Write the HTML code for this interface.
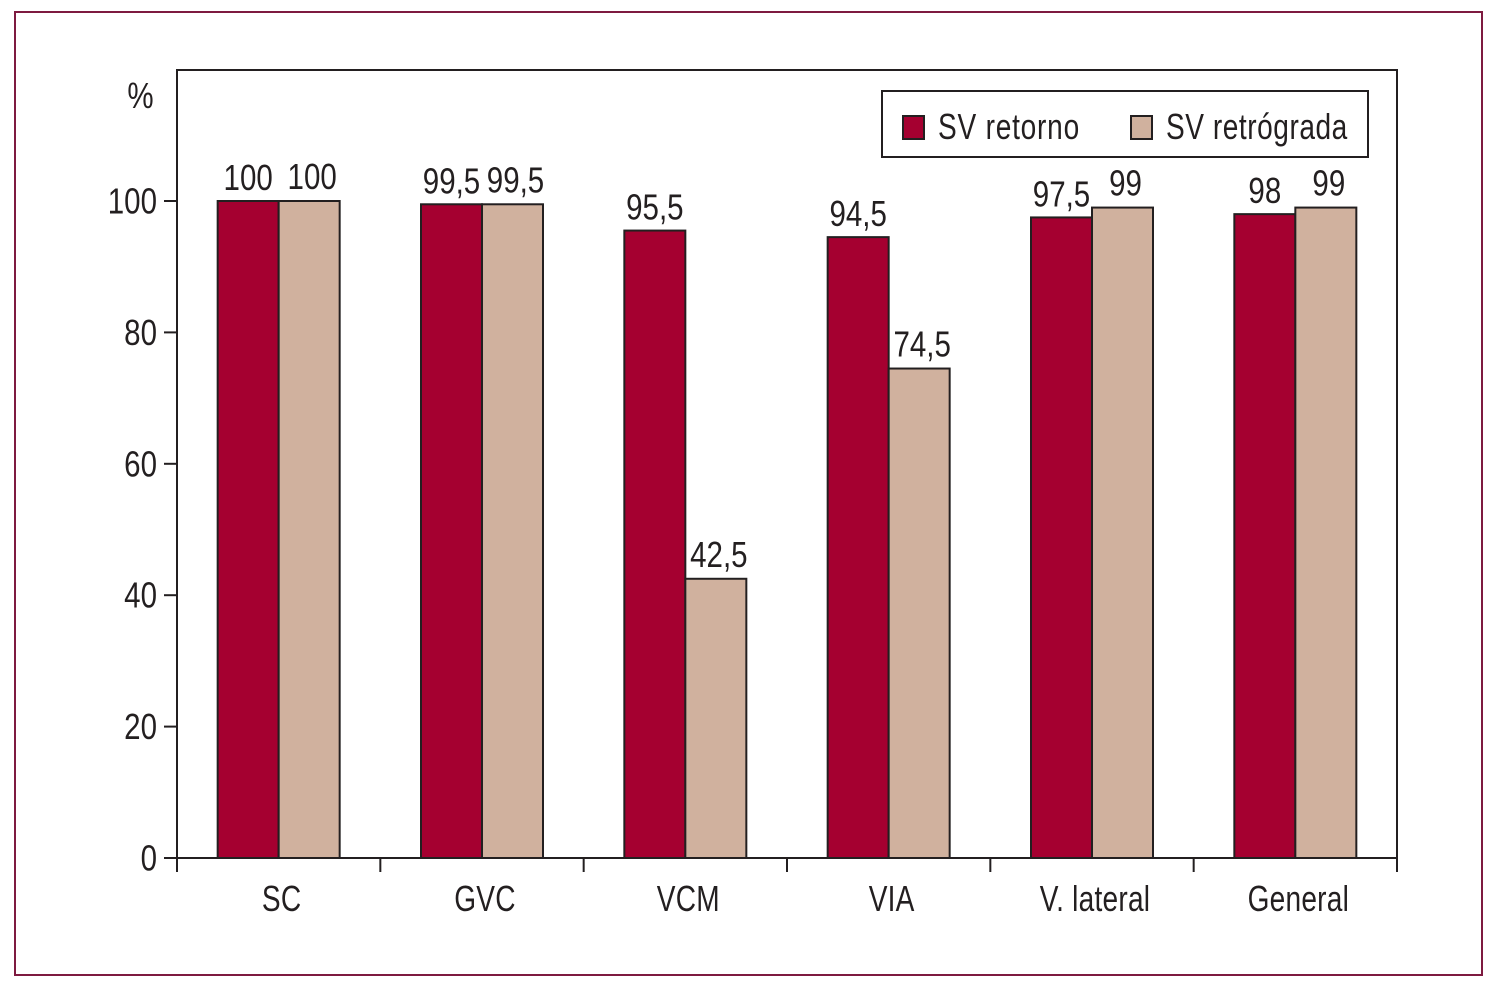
<!DOCTYPE html>
<html lang="es">
<head>
<meta charset="utf-8">
<title>SV retorno / SV retrógrada</title>
<style>
html,body{margin:0;padding:0;background:#fff;width:1491px;height:995px;overflow:hidden}
svg{display:block}
text{font-family:"Liberation Sans",sans-serif;font-size:36px;fill:#231f20}
</style>
</head>
<body>
<svg id="chart" width="1491" height="995" viewBox="0 0 1491 995" xmlns="http://www.w3.org/2000/svg">
<rect x="15" y="12" width="1467" height="963" fill="#fff" stroke="#7e1a40" stroke-width="2"/>
<g id="plot"></g>
</svg>
<script>
const categories = ['SC', 'GVC', 'VCM', 'VIA', 'V. lateral', 'General'];
const svRetorno = [100, 99.5, 95.5, 94.5, 97.5, 98];
const svRetrograda = [100, 99.5, 42.5, 74.5, 99, 99];
const yTicks = [0, 20, 40, 60, 80, 100];
const seriesNames = ['SV retorno', 'SV retrógrada'];

const NS = 'http://www.w3.org/2000/svg';
const plot = document.getElementById('plot');
const left = 177, right = 1397, top_ = 70, base = 858, y100 = 201;
const ink = '#231f20', crimson = '#a50030', tan = '#d0b19e';
const barW = 61, narrow = 0.82, narrowWords = 0.78;

function yScale(v) { return base - (base - y100) * v / 100; }
function bandCenter(i) { return left + (right - left) * (i + 0.5) / categories.length; }
function bandEdge(i) { return left + (right - left) * i / categories.length; }
function fmt(v) { return String(v).replace('.', ','); }

function make(tag, attrs, parent) {
  const el = document.createElementNS(NS, tag);
  for (const k in attrs) el.setAttribute(k, attrs[k]);
  (parent || plot).appendChild(el);
  return el;
}
function label(str, x, y, anchor, scaleX, spacing) {
  const t = make('text', { transform: 'translate(' + x + ' ' + y + ') scale(' + (scaleX || narrow) + ' 1)', 'text-anchor': anchor || 'middle' });
  if (spacing) t.setAttribute('letter-spacing', spacing);
  t.textContent = str;
  return t;
}
function line(x1, y1, x2, y2) {
  return make('line', { x1: x1, y1: y1, x2: x2, y2: y2, stroke: ink, 'stroke-width': 2 });
}

const border = make('path', { d: 'M' + left + ' ' + base + 'V' + top_ + 'H' + right + 'V' + base, fill: 'none', stroke: ink, 'stroke-width': 2 });



const baseline = line(left, base, right, base);



yTicks.forEach(function (v) {
  const tick = line(164, yScale(v), left, yScale(v));
  
  
  const t = label(String(v), 157, yScale(v) + 12.5, 'end');
  
  
});

for (let i = 0; i <= categories.length; i++) {
  const tick = line(bandEdge(i), base, bandEdge(i), 872);
  
  
}

const unit = label('%', 140.5, 108);



categories.forEach(function (c, i) {
  const cx = bandCenter(i);
  const t = label(c, cx + 3, 911, 'middle', narrowWords, '0.3');
  
  

  const a = make('rect', { x: cx - barW, y: yScale(svRetorno[i]), width: barW, height: base - yScale(svRetorno[i]), fill: crimson, stroke: ink, 'stroke-width': 2 });
  
  

  const b = make('rect', { x: cx, y: yScale(svRetrograda[i]), width: barW, height: base - yScale(svRetrograda[i]), fill: tan, stroke: ink, 'stroke-width': 2 });
  
  

  const la = label(fmt(svRetorno[i]), cx - barW / 2, yScale(svRetorno[i]) - 11);
  
  

  const lb = label(fmt(svRetrograda[i]), cx + barW / 2 + 3, yScale(svRetrograda[i]) - 12);
  
  
});

const legend = make('g', {});


make('rect', { x: 882, y: 91, width: 486, height: 66, fill: '#fff', stroke: ink, 'stroke-width': 2 }, legend);

const swatchA = make('rect', { x: 903, y: 116, width: 21, height: 23, fill: crimson, stroke: ink, 'stroke-width': 2 }, legend);



const swatchB = make('rect', { x: 1131, y: 116, width: 21, height: 23, fill: tan, stroke: ink, 'stroke-width': 2 }, legend);



const legA = make('text', { transform: 'translate(938 139) scale(' + narrowWords + ' 1)', 'letter-spacing': '1' }, legend);
legA.textContent = seriesNames[0];



const legB = make('text', { transform: 'translate(1166 139) scale(' + narrowWords + ' 1)', 'letter-spacing': '0.7' }, legend);
legB.textContent = seriesNames[1];


</script>
</body>
</html>
